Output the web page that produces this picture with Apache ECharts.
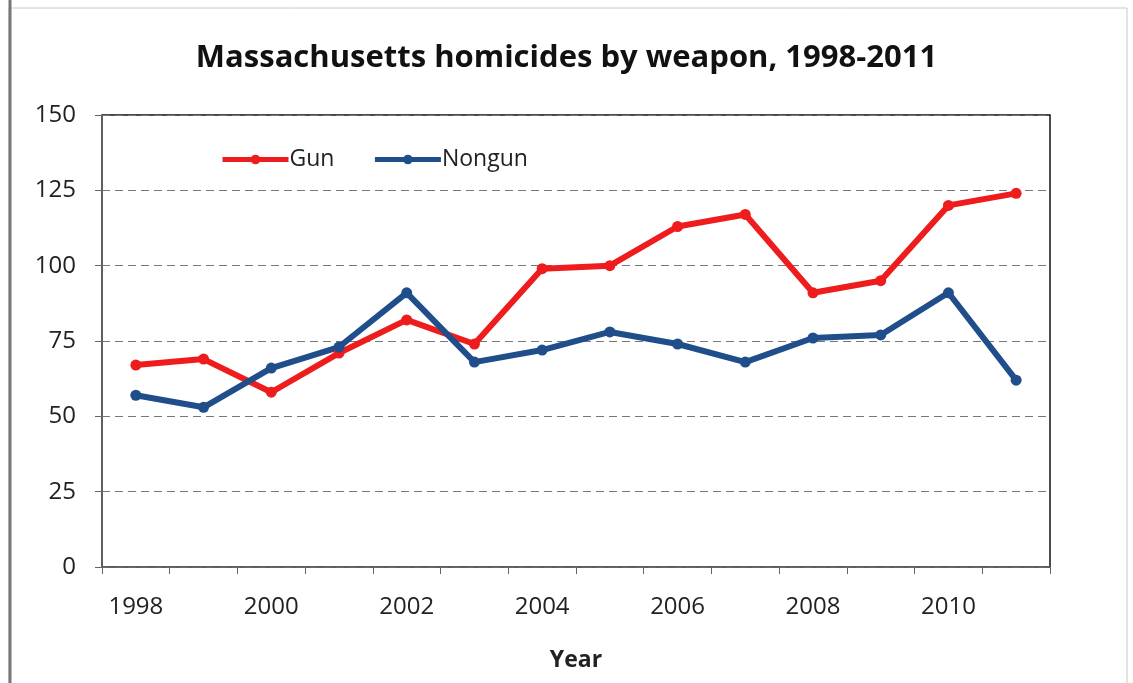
<!DOCTYPE html>
<html><head><meta charset="utf-8">
<script src="https://cdn.jsdelivr.net/npm/echarts@6/dist/echarts.min.js"></script>
<style>html,body{margin:0;padding:0;background:#fff}#c{width:1133px;height:683px}</style>
</head><body><div id="c"></div>
<script>
const years = ['1998','1999','2000','2001','2002','2003','2004','2005','2006','2007','2008','2009','2010','2011'];
const gun = [67, 69, 58, 71, 82, 74, 99, 100, 113, 117, 91, 95, 120, 124];
const nongun = [57, 53, 66, 73, 91, 68, 72, 78, 74, 68, 76, 77, 91, 62];
const yTicks = [0, 25, 50, 75, 100, 125, 150];

const FONT = '"Open Sans", "Liberation Sans", sans-serif';
const chart = echarts.init(document.getElementById('c'));
chart.setOption({
  animation: false,
  backgroundColor: '#fff',
  graphic: [
    {type: 'rect', shape: {x: 9, y: 8, width: 1118, height: 690}, style: {fill: 'none', stroke: '#c8c8c8', lineWidth: 1}},
    {type: 'line', shape: {x1: 10, y1: 0, x2: 10, y2: 683}, style: {stroke: '#777', lineWidth: 3}}
  ],
  title: {
    text: 'Massachusetts homicides by weapon, 1998-2011',
    left: 'center', top: 38,
    textStyle: {fontFamily: FONT, fontWeight: 'bold', fontSize: 31, color: '#111'}
  },
  legend: {
    left: 215, top: 143,
    itemWidth: 66, itemHeight: 12, itemGap: 38,
    lineStyle: {width: 5},
    textStyle: {fontFamily: FONT, fontSize: 23, color: '#222', padding: [0, 0, 0, -4]},
    data: ['Gun', 'Nongun']
  },
  grid: {left: 102, right: 83, top: 115, bottom: 116, show: true, borderColor: '#111', borderWidth: 1.5, containLabel: false},
  xAxis: {
    type: 'category', data: years, boundaryGap: true,
    name: 'Year', nameLocation: 'middle', nameGap: 82,
    nameTextStyle: {fontFamily: FONT, fontWeight: 'bold', fontSize: 23, color: '#222'},
    axisLine: {lineStyle: {color: '#666', width: 1.5}},
    axisTick: {show: true, length: 7, lineStyle: {color: '#666'}, interval: 0},
    axisLabel: {interval: 1, fontFamily: FONT, fontSize: 24, color: '#222', margin: 28}
  },
  yAxis: {
    type: 'value', min: 0, max: 150, interval: 25,
    axisLine: {show: true, lineStyle: {color: '#666', width: 1.5}},
    axisTick: {show: true, length: 7, lineStyle: {color: '#666'}},
    axisLabel: {fontFamily: FONT, fontSize: 24, color: '#222', margin: 26,
      formatter: v => yTicks.includes(v) ? String(v) : ''},
    splitLine: {show: true, lineStyle: {color: '#777', type: [8, 5], width: 1}}
  },
  series: [
    {name: 'Gun', type: 'line', data: gun, symbol: 'circle', symbolSize: 11,
     lineStyle: {color: '#ee1c1c', width: 6}, itemStyle: {color: '#ee1c1c'}},
    {name: 'Nongun', type: 'line', data: nongun, symbol: 'circle', symbolSize: 11,
     lineStyle: {color: '#1f4e8a', width: 6}, itemStyle: {color: '#1f4e8a'}}
  ]
});
</script></body></html>
